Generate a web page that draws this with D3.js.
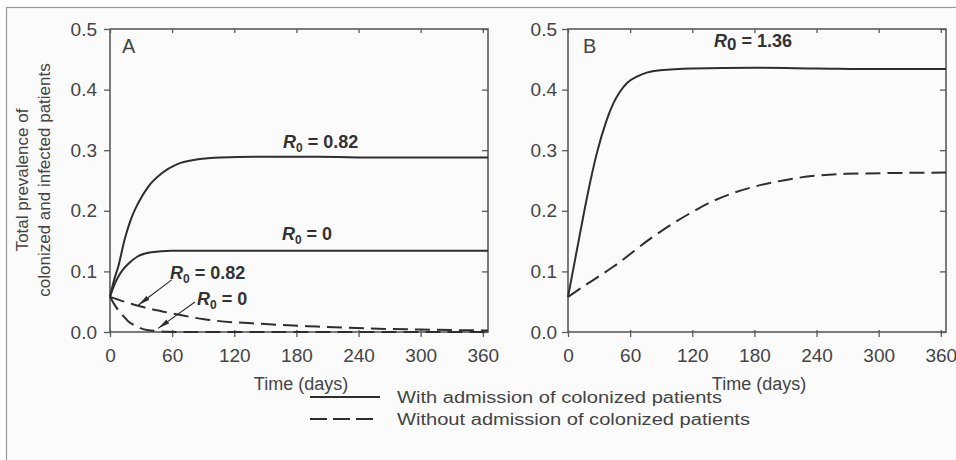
<!DOCTYPE html>
<html>
<head>
<meta charset="utf-8">
<script src="https://cdn.jsdelivr.net/npm/d3@7"></script>
<style>
  html, body { margin: 0; padding: 0; background: #fff; }
  svg { display: block; font-family: "Liberation Sans", Arial, sans-serif; }
</style>
</head>
<body>
<svg id="chart" width="956" height="460"></svg>
<script>
// ---------------- data ----------------
const xTicks = [0, 60, 120, 180, 240, 300, 360];
const yTicks = [0.0, 0.1, 0.2, 0.3, 0.4, 0.5];

// Panel A
const tA_solid082 = [0, 4, 8, 14, 20, 27, 37, 50, 65, 85, 107, 140, 200, 260, 365];
const vA_solid082 = [0.058, 0.086, 0.108, 0.152, 0.185, 0.212, 0.240, 0.262, 0.277, 0.285, 0.288, 0.289, 0.289, 0.288, 0.288];

const tA_solid0 = [0, 4, 8, 13, 18, 27, 40, 59, 90, 200, 365];
const vA_solid0 = [0.058, 0.077, 0.091, 0.104, 0.113, 0.125, 0.1315, 0.134, 0.134, 0.134, 0.134];

const tA_dash082 = [0, 14, 30, 59, 91, 150, 200, 246, 300, 365];
const vA_dash082 = [0.058, 0.050, 0.042, 0.031, 0.021, 0.013, 0.009, 0.006, 0.004, 0.0025];

const tA_dash0 = [0, 4, 8, 13, 18, 24, 30, 37, 43, 55, 80, 365];
const vA_dash0 = [0.058, 0.046, 0.036, 0.026, 0.017, 0.011, 0.006, 0.003, 0.0017, 0.0003, 0, 0];

// Panel B
const tB_solid = [0, 5, 10, 15, 20, 28, 37, 44, 50, 57, 66, 76, 89, 120, 180, 240, 300, 365];
const vB_solid = [0.058, 0.103, 0.148, 0.193, 0.236, 0.296, 0.348, 0.378, 0.396, 0.411, 0.421, 0.428, 0.432, 0.435, 0.436, 0.435, 0.434, 0.434];

const tB_dash = [0, 20, 44, 82, 120, 140, 159, 204, 268, 365];
const vB_dash = [0.058, 0.081, 0.108, 0.157, 0.198, 0.216, 0.229, 0.249, 0.261, 0.263];

const legendLabels = ["With admission of colonized patients", "Without admission of colonized patients"];
const panelLabels = ["A", "B"];
const yTitle = ["Total prevalence of", "colonized and infected patients"];
const xTitle = "Time (days)";

// ---------------- layout ----------------
const svg = d3.select("#chart");
const TEXT = "#444";
const LINE = "#2e2e2e";
const AXIS = "#5a5a5a";

svg.append("rect").attr("x", 6.5).attr("y", 7.5).attr("width", 960).attr("height", 460)
  .attr("fill", "#fbfbfb").attr("stroke", "#9a9a9a").attr("stroke-width", 1.2);

const panels = [
  { x0: 110, x1: 488 },
  { x0: 568, x1: 946 }
];
const yTop = 29, yBot = 332;

const defs = svg.append("defs");
defs.append("marker").attr("id", "arrow").attr("viewBox", "0 0 12 6")
  .attr("refX", 12).attr("refY", 3).attr("markerWidth", 12).attr("markerHeight", 6)
  .attr("markerUnits", "userSpaceOnUse").attr("orient", "auto")
  .append("path").attr("d", "M0,0.6 L12,3 L0,5.4 Z").attr("fill", LINE);

function zip(ts, vs) { return ts.map((t, i) => ({ t: t, v: vs[i] })); }

function drawPanel(p, idx) {
  const x = d3.scaleLinear().domain([0, 365]).range([p.x0, p.x1]);
  const y = d3.scaleLinear().domain([0, 0.5]).range([yBot, yTop]);
  const g = svg.append("g");

  const bottom = g.append("g").attr("transform", `translate(0,${yBot})`)
    .call(d3.axisBottom(x).tickValues(xTicks).tickSize(5).tickPadding(12).tickFormat(d3.format("d")));
  const top = g.append("g").attr("transform", `translate(0,${yTop})`)
    .call(d3.axisBottom(x).tickValues(xTicks).tickSize(4).tickFormat(""));
  const left = g.append("g").attr("transform", `translate(${p.x0},0)`)
    .call(d3.axisLeft(y).tickValues(yTicks).tickSize(6).tickPadding(idx === 0 ? 7 : 5).tickFormat(d3.format(".1f")));
  const right = g.append("g").attr("transform", `translate(${p.x1},0)`)
    .call(d3.axisLeft(y).tickValues(yTicks).tickSize(0).tickFormat(""));
  right.selectAll(".tick line").attr("x2", -6);
  bottom.selectAll(".tick line").attr("y1", -2);
  [bottom, top, left, right].forEach(a => {
    a.select(".domain").remove();
    a.selectAll(".tick line").attr("stroke", AXIS).attr("stroke-width", 1.3);
    a.selectAll("text").attr("fill", TEXT).attr("font-size", 19)
      .attr("font-family", "'Liberation Sans', Arial, sans-serif");
  });
  g.append("rect").attr("x", p.x0).attr("y", yTop).attr("width", p.x1 - p.x0).attr("height", yBot - yTop)
    .attr("fill", "none").attr("stroke", AXIS).attr("stroke-width", 1.6);

  g.append("text").attr("x", (p.x0 + p.x1) / 2 + 2).attr("y", 390)
    .attr("text-anchor", "middle").attr("font-size", 18).attr("fill", TEXT).text(xTitle);

  g.append("text").attr("x", p.x0 + (idx === 0 ? 12 : 15)).attr("y", 53)
    .attr("font-size", 20).attr("fill", TEXT).text(panelLabels[idx]);

  return { x, y, g };
}

const A = drawPanel(panels[0], 0);
const B = drawPanel(panels[1], 1);

function drawLine(P, ts, vs, dashed) {
  const line = d3.line().x(d => P.x(d.t)).y(d => P.y(d.v)).curve(d3.curveMonotoneX);
  P.g.append("path").datum(zip(ts, vs)).attr("d", line)
    .attr("fill", "none").attr("stroke", LINE).attr("stroke-width", 2)
    .attr("stroke-dasharray", dashed ? "15,7" : null);
}

drawLine(A, tA_solid082, vA_solid082, false);
drawLine(A, tA_solid0, vA_solid0, false);
drawLine(A, tA_dash082, vA_dash082, true);
drawLine(A, tA_dash0, vA_dash0, true);
drawLine(B, tB_solid, vB_solid, false);
drawLine(B, tB_dash, vB_dash, true);

function r0Label(P, t, v, value, subSize, subDy) {
  const tx = P.g.append("text").attr("x", P.x(t)).attr("y", P.y(v))
    .attr("font-size", 18).attr("font-weight", "bold").attr("fill", "#333");
  tx.append("tspan").attr("font-style", "italic").text("R");
  tx.append("tspan").attr("font-size", subSize).attr("dy", subDy).text("0");
  tx.append("tspan").attr("dy", -subDy).text(" = " + value);
  return tx;
}
r0Label(A, 167, 0.304, "0.82", 12, 4);
r0Label(A, 166, 0.152, "0", 12, 4);
r0Label(A, 58, 0.088, "0.82", 12, 4);
r0Label(A, 84, 0.044, "0", 12, 4);
r0Label(B, 141, 0.471, "1.36", 17, 3);

const arrowFrom = [[59.5, 0.086], [82, 0.0495]];
const arrowTo = [[27.5, 0.0445], [46.5, 0.006]];
arrowFrom.forEach((f, i) => {
  A.g.append("line")
    .attr("x1", A.x(f[0])).attr("y1", A.y(f[1]))
    .attr("x2", A.x(arrowTo[i][0])).attr("y2", A.y(arrowTo[i][1]))
    .attr("stroke", LINE).attr("stroke-width", 1.2).attr("marker-end", "url(#arrow)");
});

const yt = svg.append("g").attr("transform", "translate(0,180) rotate(-90)");
yt.append("text").attr("x", 0).attr("y", 28).attr("text-anchor", "middle")
  .attr("font-size", 17).attr("fill", TEXT).text(yTitle[0]);
yt.append("text").attr("x", 0).attr("y", 50).attr("text-anchor", "middle")
  .attr("font-size", 17).attr("fill", TEXT).text(yTitle[1]);

const leg = svg.append("g");
const legY = [397, 419];
const legW = [325, 353];
legendLabels.forEach((lab, i) => {
  leg.append("line").attr("x1", 310).attr("x2", i === 0 ? 380 : 373)
    .attr("y1", legY[i]).attr("y2", legY[i])
    .attr("stroke", LINE).attr("stroke-width", 2)
    .attr("stroke-dasharray", i === 0 ? null : "17,6");
  leg.append("text").attr("x", 397).attr("y", legY[i] + 6)
    .attr("font-size", 16).attr("fill", TEXT)
    .attr("textLength", legW[i]).attr("lengthAdjust", "spacingAndGlyphs").text(lab);
});
</script>
</body>
</html>
